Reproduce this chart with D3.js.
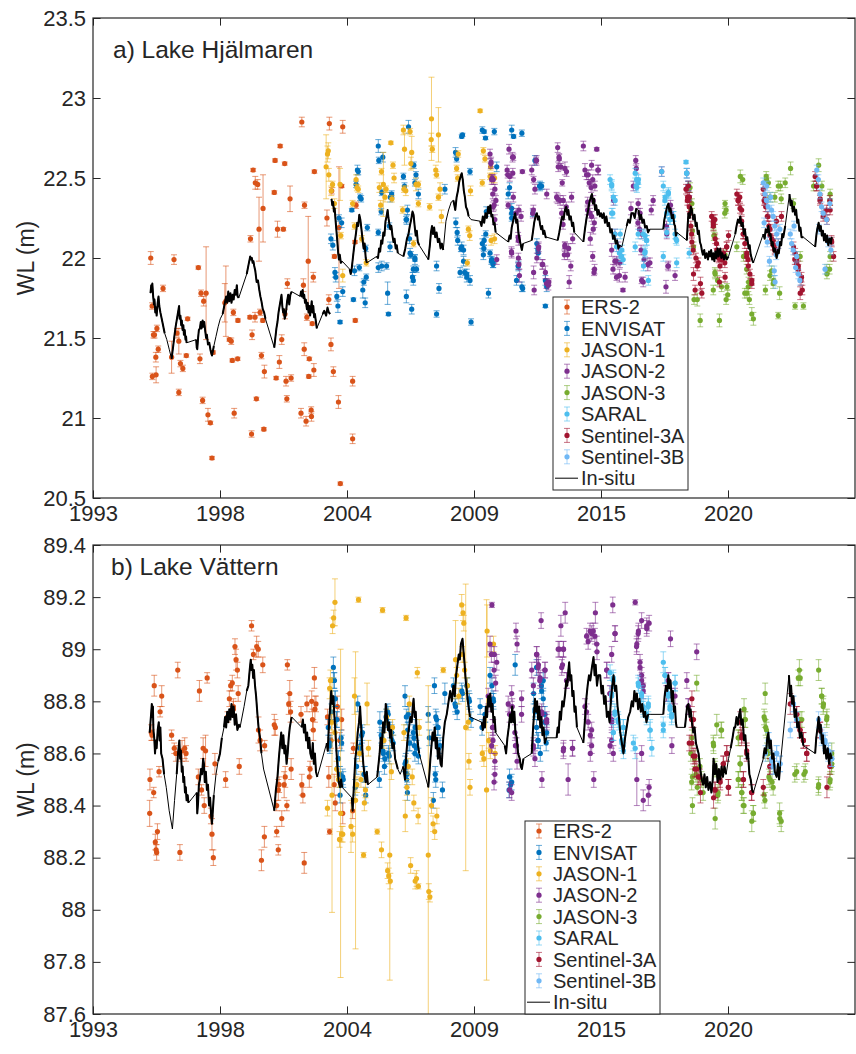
<!DOCTYPE html>
<html>
<head>
<meta charset="utf-8">
<script src="https://cdn.jsdelivr.net/npm/d3@7"></script>
<style>
  body { margin: 0; background: #fff; }
  text { font-family: "Liberation Sans", Arial, Helvetica, sans-serif; fill: #262626; }
</style>
</head>
<body>
<div id="chart"></div>
<script>
// ---------- data (decimal years, water level in m, 1-sigma error) ----------
var satellites = ["ERS-2", "ENVISAT", "JASON-1", "JASON-2", "JASON-3", "SARAL", "Sentinel-3A", "Sentinel-3B"];
var satColors = ["#D95319", "#0072BD", "#EDB120", "#7E2F8E", "#77AC30", "#4DBEEE", "#A2142F", "#70B8F5"];

// the original axis has evenly spaced ticks labelled with rounded years
var xTickVals = [1993.4, 1998.15, 2002.9, 2007.65, 2012.4, 2017.15];
var xTickLabels = ["1993", "1998", "2004", "2009", "2015", "2020"];
var hjYTicks = [20.5, 21, 21.5, 22, 22.5, 23, 23.5];
var vtYTicks = [87.6, 87.8, 88, 88.2, 88.4, 88.6, 88.8, 89, 89.2, 89.4];

// --- a) Lake Hjälmaren ---
var hjErs2 = [[1995.56,22.00,.04],[1995.61,21.70,.02],[1995.66,21.52,.02],[1995.70,21.52,.02],[1995.75,21.38,.03],[1995.79,21.56,.02],[1995.84,21.43,.02],[1995.62,21.26,.02],[1995.76,21.27,.05],[1996.02,21.81,.02],[1996.43,21.99,.03],[1996.34,21.38,.1],[1996.54,21.53,.03],[1996.61,21.48,.08],[1996.67,21.34,.02],[1996.76,21.31,.02],[1996.61,21.16,.02],[1996.89,21.39,.01],[1996.94,21.62,.01],[1997.34,21.94,.01],[1997.44,21.78,.02],[1997.54,21.73,.03],[1997.63,21.78,.29],[1997.40,21.37,.03],[1997.50,21.11,.02],[1997.70,21.02,.04],[1997.79,20.97,.01],[1997.85,20.75,.01],[1997.89,21.41,.01],[1998.33,21.72,.12],[1998.37,21.73,.22],[1998.50,21.49,.01],[1998.57,21.48,.02],[1998.65,21.66,.02],[1998.61,21.36,.01],[1998.81,21.37,.01],[1998.82,21.61,.01],[1998.68,21.03,.03],[1999.27,21.63,.01],[1999.29,22.12,.02],[1999.35,21.52,.03],[1999.39,22.55,.01],[1999.47,22.47,.04],[1999.56,22.46,.03],[1999.46,21.63,.03],[1999.61,22.18,.2],[1999.76,22.31,.21],[1999.65,21.66,.02],[1999.70,21.39,.02],[1999.51,21.12,.01],[1999.81,21.29,.04],[1999.33,20.90,.02],[1999.79,20.93,.01],[1999.75,21.61,.01],[2000.18,22.41,.01],[2000.21,22.61,.01],[2000.40,22.70,.01],[2000.57,22.59,.01],[2000.30,22.18,.05],[2000.52,22.18,.01],[2000.77,22.37,.08],[2000.67,21.84,.03],[2000.58,21.65,.03],[2000.46,21.49,.03],[2000.37,21.35,.04],[2000.25,21.25,.01],[2000.62,21.23,.03],[2000.81,21.25,.02],[2000.65,21.12,.02],[2001.21,22.85,.03],[2001.31,22.33,.02],[2001.27,21.83,.04],[2001.30,21.43,.04],[2001.18,21.03,.03],[2001.37,20.98,.03],[2001.56,21.05,.02],[2001.57,21.01,.03],[2001.49,21.37,.01],[2001.66,21.30,.04],[2001.47,21.26,.01],[2001.40,21.63,.02],[2001.60,21.59,.01],[2001.45,21.98,.28],[2001.64,21.88,.03],[2001.68,22.54,.01],[2002.22,21.74,.03],[2002.24,22.84,.04],[2002.74,22.82,.04],[2002.30,21.46,.04],[2002.39,21.29,.03],[2002.58,21.10,.04],[2002.65,20.59,.01],[2002.15,22.25,.05],[2002.33,22.42,.02],[2002.43,22.01,.01],[2002.70,22.45,.01],[2002.60,22.19,.38],[2003.11,21.23,.03],[2003.11,20.87,.03],[2003.24,22.33,.02],[2003.21,21.61,.01],[2003.20,22.10,.01]];
var hjEnvisat = [[2002.30,22.12,.03],[2002.37,22.08,.03],[2002.45,21.91,.03],[2002.48,21.88,.03],[2002.52,21.76,.03],[2002.56,21.70,.04],[2002.64,21.60,.01],[2002.60,22.25,.02],[2002.74,21.79,.03],[2002.70,22.22,.03],[2003.08,22.30,.01],[2003.14,21.74,.01],[2003.18,21.92,.03],[2003.24,22.46,.02],[2003.29,22.55,.03],[2003.32,22.54,.02],[2003.39,22.38,.02],[2003.43,22.37,.02],[2003.36,21.94,.02],[2003.49,21.80,.05],[2003.53,21.85,.02],[2003.58,21.72,.03],[2003.60,22.06,.02],[2003.62,21.88,.02],[2003.66,22.19,.02],[2004.07,22.70,.04],[2004.09,22.61,.02],[2004.24,22.63,.03],[2004.20,22.41,.02],[2004.18,22.29,.02],[2004.07,22.16,.02],[2004.07,21.94,.03],[2004.20,21.95,.03],[2004.38,21.95,.02],[2004.42,21.78,.07],[2004.45,21.65,.01],[2004.48,22.20,.02],[2004.52,22.38,.03],[2004.56,22.39,.02],[2004.51,22.07,.03],[2004.57,22.40,.02],[2005.01,22.51,.02],[2005.05,22.45,.02],[2005.20,22.82,.04],[2005.11,22.24,.02],[2005.16,22.30,.03],[2005.24,22.12,.03],[2005.29,22.02,.02],[2005.12,21.76,.04],[2005.32,21.68,.03],[2005.35,21.88,.03],[2005.38,21.93,.02],[2005.44,22.00,.02],[2005.40,22.58,.02],[2005.48,22.52,.02],[2005.13,22.24,.03],[2005.26,22.03,.03],[2005.44,21.99,.03],[2005.38,21.86,.03],[2005.50,21.93,.02],[2005.44,22.47,.02],[2005.57,22.40,.03],[2006.25,21.95,.03],[2006.25,21.65,.02],[2006.34,21.81,.03],[2006.56,22.43,.03],[2006.96,22.66,.03],[2007.00,22.62,.02],[2006.97,22.22,.03],[2007.02,22.16,.03],[2007.13,21.91,.03],[2007.16,22.06,.02],[2007.22,22.77,.01],[2007.26,22.05,.03],[2007.30,21.91,.02],[2007.38,21.90,.03],[2007.50,21.86,.03],[2007.54,21.60,.02],[2007.50,22.54,.02],[2007.19,22.76,.01],[2007.04,22.11,.03],[2007.19,22.07,.03],[2007.26,21.98,.03],[2007.38,21.88,.03],[2007.96,22.80,.02],[2008.03,22.79,.01],[2008.08,22.75,.01],[2008.41,22.79,.02],[2008.11,22.29,.03],[2008.09,22.15,.02],[2007.96,22.09,.03],[2008.02,22.06,.02],[2008.19,21.78,.03],[2008.25,22.03,.02],[2008.30,21.98,.02],[2008.36,21.96,.02],[2008.50,22.57,.03],[2008.03,22.11,.03],[2008.00,22.02,.03],[2008.31,21.99,.02],[2008.37,21.97,.03],[2009.06,22.80,.03],[2009.13,22.76,.01],[2009.44,22.78,.02],[2008.98,22.44,.03],[2009.06,22.31,.03],[2009.06,22.25,.02],[2009.24,21.86,.03],[2009.30,21.95,.02],[2009.44,21.82,.03],[2008.93,22.40,.03],[2009.06,22.28,.03],[2009.31,21.95,.03],[2009.85,22.28,.02],[2009.93,22.61,.03],[2010.00,22.09,.03],[2010.04,22.05,.02],[2010.10,22.45,.02],[2010.15,22.45,.02],[2010.05,22.03,.03],[2010.12,22.45,.03],[2010.18,22.45,.02],[2010.32,21.86,.03],[2010.37,21.84,.02],[2010.32,21.70,.01],[2010.37,21.82,.03],[2009.47,21.81,.02]];
var hjJason1 = [[2002.12,22.57,.2],[2002.17,22.65,.05],[2002.20,22.67,.05],[2002.22,22.52,.04],[2002.31,22.42,.03],[2002.36,22.46,.02],[2002.43,22.34,.03],[2002.64,22.46,.1],[2002.67,22.14,.02],[2002.74,21.89,.04],[2003.11,22.34,.02],[2003.18,22.20,.02],[2003.24,22.49,.03],[2003.27,22.44,.02],[2003.32,22.43,.02],[2003.45,22.12,.02],[2003.62,21.97,.02],[2004.11,22.44,.03],[2004.16,22.33,.03],[2004.19,22.54,.02],[2004.26,22.46,.2],[2004.32,22.38,.03],[2004.36,22.43,.02],[2004.54,22.72,.01],[2004.58,22.37,.02],[2004.62,22.58,.02],[2004.66,22.50,.03],[2005.01,22.80,.03],[2005.05,22.68,.1],[2004.98,22.30,.02],[2005.03,22.43,.02],[2005.10,22.42,.03],[2005.26,22.79,.02],[2005.32,22.66,.1],[2005.29,22.59,.04],[2005.39,22.09,.02],[2005.48,22.46,.04],[2005.57,22.34,.02],[2005.57,22.46,.02],[2005.99,22.32,.02],[2006.06,22.87,.26],[2006.05,22.74,.04],[2006.09,22.68,.02],[2006.32,22.77,.17],[2006.22,22.55,.03],[2006.25,22.52,.02],[2006.38,22.43,.04],[2006.32,22.38,.02],[2006.43,22.26,.04],[2007.00,22.56,.02],[2007.06,22.65,.02],[2007.04,22.50,.02],[2007.44,22.18,.02],[2007.49,22.14,.03],[2007.40,21.97,.02],[2007.52,22.42,.03],[2007.88,22.92,.01],[2008.00,22.67,.02],[2008.06,22.62,.02],[2007.96,22.47,.02],[2008.25,22.51,.02],[2008.27,22.57,.02],[2008.32,22.50,.03],[2008.42,22.50,.03],[2008.29,22.11,.03],[2008.42,22.12,.03]];
var hjJason2 = [[2008.25,22.65,.03],[2008.29,22.60,.03],[2008.33,22.50,.02],[2008.35,22.40,.03],[2008.40,22.33,.03],[2008.50,21.99,.03],[2008.28,22.59,.03],[2008.37,22.49,.03],[2008.37,22.32,.03],[2008.43,22.24,.03],[2008.31,22.49,.03],[2008.43,22.43,.03],[2008.47,22.36,.03],[2008.96,22.68,.03],[2009.12,22.63,.02],[2008.91,22.52,.02],[2009.10,22.53,.03],[2009.46,22.54,.01],[2008.93,22.33,.02],[2009.05,22.04,.03],[2009.30,22.13,.03],[2009.35,21.89,.04],[2009.33,22.30,.03],[2009.09,22.63,.03],[2008.89,22.55,.03],[2008.99,22.51,.03],[2009.12,22.38,.03],[2009.22,22.28,.03],[2009.31,22.00,.03],[2009.33,21.96,.03],[2009.06,22.03,.03],[2009.31,22.11,.03],[2009.41,22.26,.03],[2009.81,22.55,.03],[2009.88,22.49,.02],[2009.97,22.61,.02],[2009.85,22.28,.03],[2009.88,21.91,.04],[2009.90,21.80,.03],[2010.06,22.06,.03],[2010.00,22.00,.03],[2010.20,21.96,.03],[2010.32,21.91,.04],[2010.36,21.84,.03],[2010.45,21.85,.02],[2009.93,22.43,.03],[2009.87,22.30,.03],[2010.07,22.07,.03],[2010.22,21.96,.03],[2010.43,21.83,.03],[2009.99,22.61,.03],[2010.37,22.40,.03],[2010.78,22.69,.03],[2010.83,22.63,.02],[2010.90,22.57,.02],[2010.78,22.37,.03],[2010.95,22.47,.02],[2011.05,22.56,.04],[2010.98,22.21,.03],[2011.05,22.08,.02],[2011.15,22.02,.03],[2011.21,21.85,.04],[2011.27,21.95,.03],[2011.10,22.32,.03],[2010.84,22.62,.03],[2010.80,22.57,.03],[2010.74,22.38,.03],[2010.87,22.36,.03],[2010.93,22.28,.03],[2010.99,22.36,.03],[2011.11,22.54,.03],[2011.05,22.07,.03],[2011.19,22.06,.03],[2011.34,22.12,.03],[2011.30,22.38,.03],[2011.03,22.02,.03],[2011.74,22.70,.03],[2011.80,22.55,.04],[2011.86,22.52,.03],[2011.96,22.47,.02],[2012.03,22.44,.03],[2012.24,22.68,.01],[2012.28,22.55,.03],[2011.90,22.30,.03],[2012.05,22.26,.03],[2012.00,22.12,.04],[2012.09,22.01,.03],[2012.16,21.93,.03],[2012.14,21.91,.02],[2011.92,22.52,.03],[2012.05,22.58,.03],[2012.09,22.49,.03],[2012.30,22.55,.03],[2012.17,22.45,.03],[2012.11,22.36,.03],[2011.99,22.28,.03],[2012.11,22.18,.03],[2011.90,22.35,.03],[2012.15,22.22,.03],[2012.87,22.36,.03],[2012.80,22.05,.04],[2012.92,21.98,.02],[2012.85,21.93,.03],[2012.98,21.88,.02],[2013.09,21.89,.04],[2013.22,21.80,.01],[2012.92,22.15,.03],[2013.05,22.07,.03],[2012.98,21.98,.03],[2013.11,21.97,.03],[2013.30,21.88,.03],[2013.52,22.31,.04],[2013.70,22.61,.03],[2013.72,22.56,.03],[2013.78,22.22,.02],[2013.84,22.18,.04],[2013.90,22.05,.03],[2013.98,21.85,.03],[2013.92,21.86,.02],[2014.15,21.96,.04],[2014.28,22.30,.03],[2013.61,22.45,.03],[2013.79,22.34,.03],[2013.86,22.28,.03],[2013.92,22.15,.03],[2014.01,21.99,.03],[2014.23,21.97,.03],[2014.35,22.36,.03],[2014.67,22.54,.03],[2014.83,21.82,.04],[2014.90,21.95,.02],[2015.17,21.89,.03],[2014.85,22.20,.03],[2015.00,22.33,.03],[2014.92,21.95,.03],[2014.86,22.15,.03],[2015.04,22.28,.03],[2015.61,22.53,.03],[2015.66,22.44,.02],[2015.70,22.38,.03],[2015.66,22.45,.03],[2015.70,22.36,.03]];
var hjJason3 = [[2015.73,22.44,.03],[2015.76,22.30,.03],[2015.80,22.34,.03],[2015.82,22.17,.03],[2015.86,22.07,.03],[2015.88,21.74,.03],[2016.00,21.74,.04],[2016.11,21.61,.04],[2016.61,22.20,.02],[2016.65,22.14,.02],[2016.67,21.90,.03],[2016.83,21.61,.04],[2016.76,21.86,.03],[2016.62,22.14,.03],[2016.66,21.91,.03],[2016.60,21.80,.03],[2016.91,21.82,.03],[2017.04,22.34,.02],[2017.08,22.30,.02],[2017.04,22.02,.03],[2017.11,21.82,.02],[2017.08,21.74,.03],[2017.14,21.77,.03],[2017.03,22.28,.03],[2017.61,22.51,.04],[2017.70,22.49,.03],[2017.48,22.07,.03],[2017.73,22.01,.03],[2017.85,21.93,.03],[2017.92,21.85,.03],[2017.86,21.78,.03],[2017.95,21.74,.03],[2018.04,21.65,.04],[2018.10,21.62,.04],[2017.78,21.78,.03],[2017.91,21.82,.03],[2018.55,21.80,.03],[2018.58,22.51,.03],[2018.66,22.47,.03],[2018.78,21.92,.03],[2018.86,21.86,.03],[2018.59,22.49,.03],[2018.72,22.38,.03],[2018.90,22.38,.03],[2019.03,22.45,.03],[2018.72,21.89,.03],[2018.84,21.84,.03],[2019.08,21.78,.04],[2019.11,22.45,.03],[2019.14,22.37,.03],[2019.03,21.64,.02],[2019.29,22.47,.03],[2019.49,22.56,.04],[2019.60,22.34,.03],[2019.66,21.70,.02],[2019.85,22.01,.03],[2019.97,21.70,.02],[2020.35,22.45,.03],[2020.54,22.58,.04],[2020.66,22.45,.03],[2020.97,22.40,.03],[2020.97,22.01,.03],[2020.85,21.90,.03],[2020.95,21.93,.03],[2020.84,21.93,.03],[2020.96,22.36,.03]];
var hjSaral = [[2012.74,22.49,.03],[2012.80,22.45,.03],[2012.93,22.36,.03],[2012.80,22.28,.03],[2013.12,22.15,.03],[2013.18,22.05,.03],[2013.09,22.03,.03],[2013.15,22.01,.03],[2012.80,22.46,.03],[2012.86,22.38,.03],[2012.84,22.28,.03],[2012.92,22.15,.03],[2012.98,22.07,.03],[2013.17,22.01,.03],[2013.23,21.99,.03],[2013.68,22.53,.03],[2013.80,22.49,.03],[2013.74,22.44,.03],[2013.68,22.07,.03],[2014.05,22.14,.03],[2014.11,22.11,.03],[2013.99,21.95,.03],[2014.17,21.86,.03],[2014.05,22.04,.03],[2013.73,22.49,.03],[2013.79,22.47,.03],[2013.71,22.45,.03],[2013.79,22.15,.03],[2013.98,22.15,.03],[2014.10,22.11,.03],[2014.04,22.03,.03],[2014.67,22.54,.03],[2014.80,22.38,.03],[2014.92,22.41,.03],[2014.86,22.28,.03],[2014.98,22.24,.03],[2014.86,22.16,.03],[2014.73,22.01,.03],[2014.73,22.45,.03],[2014.79,22.36,.03],[2014.92,22.40,.03],[2014.86,22.28,.03],[2014.98,22.24,.03],[2015.11,22.26,.03],[2015.23,21.97,.03],[2015.20,22.12,.03],[2015.10,22.26,.03],[2015.17,22.15,.03],[2015.23,22.11,.03],[2015.58,22.60,.01],[2015.61,22.53,.03],[2015.67,22.45,.03],[2015.70,22.03,.03],[2015.60,22.53,.03],[2015.66,22.45,.03]];
var hjS3a = [[2015.58,22.43,.03],[2015.64,22.38,.03],[2015.67,22.45,.03],[2015.70,22.32,.03],[2015.76,22.20,.03],[2015.80,22.10,.03],[2015.86,21.90,.04],[2015.92,21.80,.03],[2015.95,22.00,.03],[2016.00,21.95,.03],[2016.12,21.84,.04],[2016.17,21.78,.03],[2015.63,22.36,.03],[2015.70,22.38,.03],[2015.73,22.28,.03],[2015.79,22.15,.03],[2015.85,22.05,.03],[2016.04,21.97,.03],[2016.54,22.26,.03],[2016.61,22.24,.03],[2016.60,22.20,.03],[2016.67,22.12,.03],[2016.73,22.05,.03],[2016.80,22.00,.03],[2016.86,22.02,.03],[2016.92,22.01,.03],[2016.98,22.03,.03],[2017.04,21.88,.03],[2017.10,22.07,.03],[2017.17,22.14,.03],[2016.83,21.85,.03],[2016.60,22.22,.03],[2016.66,22.24,.03],[2016.72,22.09,.03],[2016.78,22.01,.03],[2016.85,21.95,.03],[2016.91,21.99,.03],[2017.03,21.97,.03],[2017.10,22.07,.03],[2017.48,22.40,.03],[2017.53,22.36,.03],[2017.59,22.38,.03],[2017.60,22.31,.03],[2017.66,22.23,.03],[2017.72,22.15,.03],[2017.78,22.09,.03],[2017.85,22.03,.03],[2017.90,21.99,.03],[2018.04,21.86,.03],[2018.04,21.84,.03],[2017.53,22.36,.03],[2017.66,22.30,.03],[2017.72,22.15,.03],[2017.85,22.01,.03],[2017.91,21.95,.03],[2017.97,21.90,.03],[2018.47,22.43,.03],[2018.50,22.36,.03],[2018.53,22.37,.03],[2018.56,22.32,.03],[2018.62,22.26,.03],[2018.68,22.20,.03],[2018.72,22.14,.03],[2018.78,22.12,.03],[2018.84,22.08,.03],[2018.90,22.06,.03],[2018.96,22.23,.03],[2018.53,22.36,.03],[2018.65,22.26,.03],[2018.72,22.18,.03],[2018.84,22.11,.03],[2018.90,22.05,.03],[2019.03,22.09,.03],[2019.15,22.26,.03],[2019.60,22.07,.03],[2019.66,22.03,.03],[2019.72,21.99,.03],[2019.78,21.95,.03],[2019.85,21.78,.04],[2019.88,21.86,.03],[2019.93,21.80,.03],[2019.65,21.99,.03],[2019.72,21.97,.03],[2019.78,21.93,.03],[2019.90,21.88,.03],[2020.41,22.51,.03],[2020.47,22.45,.03],[2020.60,22.37,.03],[2020.72,22.28,.03],[2020.85,22.24,.03],[2020.97,22.30,.03],[2021.03,22.10,.03],[2021.10,22.01,.03],[2020.46,22.45,.03],[2020.59,22.36,.03],[2020.71,22.26,.03],[2020.84,22.30,.03],[2020.96,22.36,.03],[2021.02,22.11,.03]];
var hjS3b = [[2018.47,22.47,.03],[2018.53,22.40,.03],[2018.59,22.36,.03],[2018.65,22.32,.03],[2018.78,22.30,.03],[2018.84,22.26,.03],[2018.90,22.20,.03],[2018.97,22.15,.03],[2019.09,22.18,.03],[2019.03,22.09,.03],[2018.91,21.85,.04],[2018.50,22.22,.03],[2018.62,22.10,.03],[2018.70,21.98,.03],[2018.88,21.92,.03],[2018.60,22.45,.03],[2018.75,22.38,.03],[2018.95,22.02,.03],[2019.48,22.15,.03],[2019.53,22.09,.03],[2019.59,22.05,.03],[2019.72,22.01,.03],[2019.78,21.90,.03],[2019.84,21.86,.03],[2019.62,22.20,.03],[2019.68,21.94,.03],[2020.47,22.55,.03],[2020.53,22.49,.03],[2020.59,22.40,.03],[2020.65,22.32,.03],[2020.71,22.28,.03],[2020.84,22.24,.03],[2020.96,22.34,.03],[2020.78,21.93,.03],[2020.55,22.18,.03],[2020.90,22.10,.03],[2021.00,22.05,.03]];
var hjInsitu = [[1995.55,21.78],[1995.58,21.83],[1995.60,21.79],[1995.62,21.84],[1995.65,21.76],[1995.68,21.71],[1995.70,21.74],[1995.73,21.66],[1995.76,21.69],[1995.78,21.64],[1995.82,21.72],[1995.85,21.76],[1995.88,21.70],[1995.92,21.66],[1995.97,21.62],[1996.02,21.58],[1996.08,21.53],[1996.16,21.49],[1996.25,21.43],[1996.34,21.37],[1996.40,21.45],[1996.45,21.52],[1996.49,21.57],[1996.55,21.63],[1996.60,21.68],[1996.62,21.70],[1996.64,21.62],[1996.67,21.64],[1996.70,21.58],[1996.72,21.61],[1996.75,21.55],[1996.78,21.58],[1996.80,21.52],[1996.83,21.55],[1996.86,21.49],[1996.88,21.51],[1996.90,21.47],[1997.26,21.49],[1997.28,21.44],[1997.30,21.43],[1997.33,21.50],[1997.36,21.55],[1997.40,21.56],[1997.43,21.60],[1997.46,21.56],[1997.50,21.61],[1997.53,21.57],[1997.56,21.60],[1997.60,21.54],[1997.63,21.50],[1997.66,21.52],[1997.70,21.46],[1997.75,21.47],[1997.80,21.42],[1997.85,21.39],[1997.92,21.45],[1998.00,21.51],[1998.08,21.57],[1998.16,21.62],[1998.25,21.65],[1998.32,21.71],[1998.38,21.76],[1998.42,21.72],[1998.46,21.79],[1998.50,21.73],[1998.54,21.78],[1998.58,21.72],[1998.62,21.77],[1998.66,21.74],[1998.70,21.80],[1998.74,21.77],[1998.78,21.83],[1998.81,21.76],[1998.85,21.75],[1999.15,21.90],[1999.22,21.96],[1999.28,22.01],[1999.31,21.99],[1999.34,22.00],[1999.37,21.97],[1999.40,21.98],[1999.43,21.95],[1999.47,21.92],[1999.52,21.85],[1999.57,21.86],[1999.62,21.80],[1999.66,21.76],[1999.70,21.73],[1999.75,21.68],[1999.80,21.66],[1999.85,21.62],[2000.18,21.44],[2000.22,21.50],[2000.26,21.56],[2000.30,21.60],[2000.34,21.66],[2000.38,21.70],[2000.42,21.74],[2000.45,21.77],[2000.48,21.70],[2000.51,21.66],[2000.54,21.68],[2000.57,21.62],[2000.60,21.64],[2000.63,21.68],[2000.66,21.73],[2000.70,21.77],[2000.74,21.71],[2000.78,21.77],[2000.83,21.79],[2001.15,21.76],[2001.18,21.79],[2001.21,21.76],[2001.24,21.80],[2001.27,21.75],[2001.30,21.77],[2001.33,21.72],[2001.36,21.74],[2001.40,21.68],[2001.43,21.72],[2001.46,21.66],[2001.49,21.70],[2001.52,21.64],[2001.55,21.68],[2001.58,21.73],[2001.61,21.66],[2001.64,21.70],[2001.67,21.63],[2001.70,21.65],[2001.77,21.56],[2001.99,21.65],[2002.05,21.67],[2002.12,21.64],[2002.17,21.69],[2002.22,21.66],[2002.27,21.65],[2002.295,null],[2002.32,22.37],[2002.35,22.33],[2002.38,22.35],[2002.41,22.29],[2002.44,22.31],[2002.47,22.24],[2002.50,22.18],[2002.54,22.10],[2002.57,22.03],[2002.60,21.99],[2002.63,22.02],[2002.67,21.97],[2002.72,21.98],[2003.00,21.93],[2003.04,21.90],[2003.08,21.94],[2003.12,22.00],[2003.16,22.06],[2003.20,22.11],[2003.24,22.16],[2003.28,22.22],[2003.32,22.20],[2003.36,22.27],[2003.40,22.24],[2003.44,22.18],[2003.48,22.12],[2003.52,22.06],[2003.56,22.09],[2003.60,22.00],[2003.64,21.97],[2004.01,22.01],[2004.06,22.00],[2004.10,22.06],[2004.14,22.04],[2004.18,22.11],[2004.22,22.09],[2004.26,22.16],[2004.30,22.14],[2004.34,22.23],[2004.38,22.26],[2004.42,22.30],[2004.45,22.25],[2004.48,22.22],[2004.52,22.18],[2004.56,22.20],[2004.60,22.14],[2004.64,22.10],[2004.68,22.12],[2004.72,22.06],[2004.76,22.08],[2004.80,22.03],[2005.01,22.01],[2005.08,22.06],[2005.14,22.12],[2005.20,22.15],[2005.25,22.20],[2005.30,22.24],[2005.35,22.29],[2005.39,22.27],[2005.43,22.20],[2005.47,22.14],[2005.51,22.17],[2005.55,22.10],[2005.60,22.08],[2005.94,21.99],[2006.00,22.08],[2006.04,22.16],[2006.08,22.20],[2006.12,22.15],[2006.16,22.19],[2006.20,22.13],[2006.25,22.16],[2006.30,22.10],[2006.35,22.12],[2006.40,22.06],[2006.45,22.09],[2006.50,22.05],[2006.60,22.23],[2006.70,22.30],[2006.80,22.35],[2006.88,22.36],[2006.95,22.30],[2007.00,22.38],[2007.05,22.42],[2007.10,22.48],[2007.15,22.51],[2007.19,22.53],[2007.23,22.49],[2007.27,22.42],[2007.31,22.38],[2007.35,22.32],[2007.40,22.30],[2007.45,22.26],[2007.54,22.24],[2007.88,22.23],[2007.93,22.20],[2007.98,22.26],[2008.03,22.22],[2008.08,22.28],[2008.13,22.25],[2008.18,22.32],[2008.22,22.28],[2008.26,22.33],[2008.30,22.26],[2008.34,22.27],[2008.38,22.21],[2008.42,22.22],[2008.46,22.16],[2008.93,22.10],[2008.98,22.14],[2009.02,22.12],[2009.06,22.19],[2009.10,22.22],[2009.14,22.25],[2009.19,22.28],[2009.23,22.22],[2009.27,22.24],[2009.31,22.16],[2009.35,22.12],[2009.40,22.08],[2009.44,22.05],[2009.48,22.09],[2009.81,22.11],[2009.86,22.17],[2009.90,22.22],[2009.95,22.26],[2010.00,22.28],[2010.04,22.24],[2010.08,22.26],[2010.12,22.21],[2010.16,22.18],[2010.20,22.20],[2010.24,22.15],[2010.28,22.17],[2010.33,22.13],[2010.37,22.13],[2010.78,22.11],[2010.84,22.16],[2010.90,22.22],[2010.95,22.26],[2011.00,22.24],[2011.05,22.30],[2011.10,22.32],[2011.14,22.27],[2011.18,22.30],[2011.22,22.24],[2011.27,22.26],[2011.32,22.20],[2011.36,22.22],[2011.40,22.16],[2011.74,22.10],[2011.80,22.18],[2011.86,22.25],[2011.92,22.30],[2011.97,22.35],[2012.02,22.38],[2012.06,22.40],[2012.10,22.34],[2012.14,22.37],[2012.18,22.30],[2012.22,22.33],[2012.27,22.27],[2012.31,22.30],[2012.36,22.26],[2012.40,22.28],[2012.45,22.25],[2012.50,22.28],[2012.55,22.22],[2012.60,22.26],[2012.65,22.20],[2012.70,22.22],[2012.75,22.16],[2012.80,22.18],[2012.85,22.12],[2012.90,22.14],[2012.95,22.09],[2013.00,22.11],[2013.05,22.06],[2013.10,22.08],[2013.18,22.07],[2013.36,22.20],[2013.42,22.24],[2013.48,22.22],[2013.54,22.28],[2013.61,22.28],[2013.66,22.25],[2013.72,22.31],[2013.80,22.30],[2013.85,22.24],[2013.90,22.27],[2013.95,22.22],[2014.00,22.24],[2014.05,22.19],[2014.11,22.20],[2014.16,22.16],[2014.22,22.18],[2014.73,22.18],[2014.77,22.24],[2014.82,22.28],[2014.87,22.32],[2014.92,22.34],[2014.96,22.29],[2015.00,22.31],[2015.05,22.25],[2015.10,22.27],[2015.14,22.21],[2015.17,22.20],[2015.20,22.14],[2015.24,22.16],[2015.61,22.11],[2015.64,22.20],[2015.67,22.28],[2015.72,22.25],[2015.76,22.32],[2015.80,22.30],[2015.85,22.24],[2015.90,22.27],[2015.94,22.20],[2015.98,22.22],[2016.02,22.15],[2016.06,22.17],[2016.10,22.10],[2016.14,22.08],[2016.17,22.05],[2016.21,22.02],[2016.26,22.05],[2016.30,22.00],[2016.35,22.03],[2016.40,21.99],[2016.44,22.04],[2016.48,22.01],[2016.52,22.05],[2016.56,21.99],[2016.60,22.03],[2016.64,21.98],[2016.68,22.04],[2016.72,22.00],[2016.76,22.06],[2016.80,22.01],[2016.86,22.06],[2016.90,22.00],[2016.94,22.03],[2017.00,21.99],[2017.05,22.02],[2017.10,21.99],[2017.17,22.01],[2017.42,22.15],[2017.47,22.20],[2017.52,22.24],[2017.57,22.22],[2017.61,22.26],[2017.65,22.20],[2017.70,22.22],[2017.74,22.15],[2017.78,22.18],[2017.83,22.11],[2017.87,22.13],[2017.92,22.06],[2017.96,22.08],[2018.00,22.02],[2018.05,21.99],[2018.10,21.97],[2018.47,22.15],[2018.52,22.12],[2018.56,22.18],[2018.61,22.16],[2018.66,22.20],[2018.70,22.14],[2018.74,22.15],[2018.78,22.08],[2018.82,22.10],[2018.86,22.04],[2018.90,22.06],[2018.97,22.00],[2019.01,22.05],[2019.05,22.03],[2019.10,22.10],[2019.14,22.08],[2019.18,22.15],[2019.22,22.13],[2019.29,22.20],[2019.45,22.40],[2019.49,22.33],[2019.53,22.36],[2019.57,22.29],[2019.62,22.32],[2019.66,22.27],[2019.70,22.30],[2019.74,22.22],[2019.78,22.24],[2019.82,22.17],[2019.86,22.19],[2019.90,22.13],[2019.97,22.13],[2020.41,22.07],[2020.46,22.15],[2020.50,22.19],[2020.54,22.22],[2020.58,22.17],[2020.62,22.20],[2020.66,22.14],[2020.70,22.17],[2020.74,22.11],[2020.78,22.15],[2020.82,22.10],[2020.86,22.14],[2020.90,22.08],[2020.95,22.12],[2021.00,22.09],[2021.03,22.13]];

// --- b) Lake Vättern ---
var vtErs2 = [[1995.52,88.37,.05],[1995.53,88.50,.04],[1995.58,88.68,.03],[1995.61,88.67,.02],[1995.67,88.45,.02],[1995.69,88.86,.04],[1995.73,88.26,.03],[1995.76,88.23,.02],[1995.78,88.22,.03],[1995.81,88.30,.03],[1995.87,88.53,.02],[1995.91,88.76,.02],[1995.97,88.82,.04],[1996.34,88.67,.02],[1996.44,88.62,.02],[1996.50,88.60,.03],[1996.57,88.92,.03],[1996.65,88.22,.03],[1996.73,88.61,.04],[1996.83,88.62,.04],[1996.88,88.60,.03],[1997.38,88.84,.04],[1997.34,88.51,.03],[1997.46,88.46,.02],[1997.52,88.62,.04],[1997.61,88.61,.06],[1997.67,88.89,.02],[1997.56,88.40,.03],[1997.81,88.36,.03],[1997.85,88.29,.06],[1997.90,88.20,.03],[1997.96,88.56,.04],[1998.36,88.50,.03],[1998.43,88.74,.02],[1998.50,88.81,.03],[1998.55,88.86,.02],[1998.61,88.87,.03],[1998.65,88.77,.03],[1998.65,88.78,.03],[1998.71,89.01,.03],[1998.75,88.96,.04],[1998.80,88.92,.03],[1998.83,88.83,.03],[1998.87,88.55,.03],[1999.33,89.09,.02],[1999.40,88.98,.02],[1999.52,89.01,.04],[1999.58,89.00,.03],[1999.75,88.94,.03],[1999.59,88.69,.05],[1999.65,88.65,.04],[1999.82,88.63,.02],[1999.70,88.19,.04],[1999.81,88.28,.04],[2000.18,88.71,.04],[2000.22,88.70,.03],[2000.27,88.40,.02],[2000.33,88.46,.04],[2000.36,88.48,.03],[2000.27,88.30,.02],[2000.33,88.23,.02],[2000.46,88.35,.03],[2000.55,88.48,.05],[2000.59,88.51,.04],[2000.65,88.40,.02],[2000.67,88.94,.02],[2000.72,88.79,.04],[2000.76,88.83,.05],[2000.79,88.76,.04],[2000.81,88.54,.04],[2001.18,88.75,.03],[2001.21,88.48,.04],[2001.25,88.44,.03],[2001.30,88.18,.04],[2001.40,88.79,.03],[2001.49,88.51,.04],[2001.52,88.54,.03],[2001.58,88.80,.04],[2001.61,88.73,.04],[2001.64,88.69,.04],[2001.68,88.89,.04],[2001.70,88.77,.05],[2001.74,88.79,.03],[2002.17,88.74,.03],[2002.22,88.51,.04],[2002.25,88.30,.01],[2002.30,88.65,.03],[2002.42,88.48,.04],[2002.46,88.41,.03],[2002.54,88.78,.04],[2002.63,88.65,.03],[2002.70,88.73,.04],[2002.74,88.37,.04],[2003.11,88.38,.03],[2003.14,88.62,.02]];
var vtEnvisat = [[2002.20,88.70,.03],[2002.26,88.64,.03],[2002.32,88.76,.03],[2002.39,88.93,.04],[2002.43,88.88,.03],[2002.46,88.81,.03],[2002.52,88.73,.03],[2002.58,88.58,.03],[2002.64,88.52,.03],[2002.64,88.44,.03],[2002.68,88.66,.03],[2002.74,88.51,.03],[2002.26,88.63,.03],[2002.41,88.88,.03],[2002.45,88.81,.03],[2002.51,88.73,.03],[2002.57,88.58,.03],[2002.70,88.64,.03],[2002.76,88.50,.03],[2003.21,88.47,.03],[2003.26,88.55,.03],[2003.30,88.79,.03],[2003.38,88.62,.03],[2003.45,88.67,.03],[2003.53,88.52,.03],[2003.60,88.44,.03],[2003.41,88.63,.03],[2003.48,88.68,.03],[2003.57,88.52,.03],[2004.11,88.50,.03],[2004.13,88.72,.04],[2004.18,88.67,.03],[2004.24,88.61,.03],[2004.36,88.74,.03],[2004.42,88.76,.03],[2004.45,88.60,.03],[2004.52,88.69,.03],[2004.58,88.65,.03],[2004.30,88.55,.03],[2004.20,88.66,.03],[2004.26,88.60,.03],[2004.38,88.73,.03],[2004.44,88.75,.03],[2004.48,88.59,.03],[2004.57,88.68,.03],[2004.63,88.64,.03],[2004.32,88.58,.03],[2005.07,88.82,.04],[2005.12,88.74,.03],[2005.17,88.69,.03],[2005.22,88.64,.03],[2005.10,88.57,.03],[2005.15,88.52,.03],[2005.16,88.45,.03],[2005.40,88.66,.03],[2005.45,88.70,.03],[2005.50,88.62,.03],[2005.19,88.75,.03],[2005.25,88.64,.03],[2005.38,88.68,.03],[2005.44,88.60,.03],[2005.07,88.56,.03],[2005.13,88.50,.03],[2005.42,88.63,.03],[2005.57,88.59,.03],[2005.94,88.75,.03],[2005.98,88.66,.03],[2006.13,88.42,.03],[2006.17,88.86,.03],[2006.22,88.74,.03],[2006.28,88.70,.03],[2006.33,88.62,.03],[2006.20,88.52,.03],[2006.47,88.46,.03],[2006.56,88.83,.04],[2006.25,88.73,.03],[2006.31,88.70,.03],[2006.38,88.63,.03],[2006.22,88.50,.03],[2006.88,88.86,.03],[2006.96,88.78,.03],[2007.02,88.76,.03],[2007.22,88.83,.03],[2007.40,88.86,.03],[2007.48,88.80,.03],[2007.54,88.73,.03],[2006.94,88.79,.03],[2007.19,88.84,.03],[2007.38,88.86,.03],[2007.46,88.81,.03],[2007.88,88.78,.03],[2007.95,88.70,.03],[2008.08,88.75,.03],[2008.25,88.90,.03],[2008.32,88.86,.03],[2008.38,88.80,.03],[2008.06,88.75,.03],[2008.37,88.81,.03],[2008.98,88.51,.03],[2009.02,88.48,.03],[2008.96,88.46,.03],[2009.06,88.49,.03],[2009.19,88.94,.04],[2009.88,88.83,.04],[2009.93,88.76,.03],[2009.99,88.70,.03],[2010.04,88.65,.03],[2010.13,88.60,.03],[2009.99,88.93,.03],[2010.17,88.86,.03],[2010.24,88.88,.03],[2010.30,88.72,.03],[2010.35,88.64,.03],[2010.18,88.84,.03],[2010.24,88.81,.03],[2010.30,88.75,.03],[2010.37,88.68,.03],[2009.93,88.77,.03],[2010.05,88.65,.03]];
var vtJason1 = [[2002.17,88.39,.03],[2002.25,88.85,.04],[2002.28,88.88,.04],[2002.32,88.72,.03],[2002.36,89.09,.03],[2002.40,89.12,.03],[2002.45,89.18,.09],[2002.34,88.44,.45],[2002.45,88.68,.03],[2002.51,88.54,.03],[2002.58,88.50,.03],[2002.62,88.27,.03],[2002.66,88.37,.63],[2002.70,88.29,.03],[2002.74,88.29,.03],[2003.05,88.32,.1],[2003.11,88.29,.03],[2003.18,88.82,.07],[2003.22,88.42,.57],[2003.27,88.48,.03],[2003.33,89.19,.01],[2003.37,88.60,.03],[2003.42,88.50,.03],[2003.52,88.21,.01],[2003.55,88.41,.03],[2003.59,88.46,.03],[2003.65,88.79,.08],[2003.70,88.62,.03],[2004.03,88.30,.01],[2004.19,88.23,.03],[2004.23,89.15,.01],[2004.28,88.65,.03],[2004.38,88.74,.03],[2004.42,88.15,.03],[2004.46,88.13,.03],[2004.50,88.21,.48],[2004.52,88.11,.03],[2004.56,88.53,.03],[2004.60,88.70,.03],[2005.03,88.68,.03],[2005.08,88.36,.06],[2005.11,89.12,.01],[2005.14,88.47,.03],[2005.19,88.55,.03],[2005.23,88.79,.03],[2005.28,88.17,.03],[2005.34,88.51,.03],[2005.40,88.41,.03],[2005.45,88.11,.03],[2005.50,88.12,.03],[2005.53,88.91,.02],[2005.56,88.36,.03],[2005.57,88.09,.01],[2005.60,88.70,.03],[2005.94,88.21,.65],[2005.96,88.07,.03],[2006.00,88.05,.02],[2006.06,88.40,.03],[2006.12,88.33,.03],[2006.18,88.30,.03],[2006.26,88.36,.03],[2006.50,88.92,.01],[2006.96,88.96,.15],[2007.00,88.90,.03],[2007.08,88.82,.03],[2007.19,89.17,.04],[2007.24,89.14,.03],[2007.27,89.10,.03],[2007.21,88.98,.03],[2007.30,88.92,.03],[2007.34,88.70,.55],[2007.40,88.86,.03],[2007.44,88.72,.03],[2007.46,88.57,.03],[2007.50,88.47,.03],[2007.96,88.60,.03],[2008.02,88.58,.03],[2008.14,89.07,.1],[2008.12,88.46,.73],[2008.20,88.65,.03],[2008.26,88.61,.03],[2008.38,89.02,.03],[2008.44,88.60,.03]];
var vtJason2 = [[2008.32,89.17,.01],[2008.30,88.98,.03],[2008.40,88.92,.03],[2008.46,88.87,.03],[2008.34,88.70,.03],[2008.36,88.65,.03],[2008.43,88.57,.03],[2008.43,88.52,.03],[2008.40,88.49,.03],[2008.25,89.02,.03],[2008.41,88.98,.03],[2008.50,88.95,.03],[2008.18,88.82,.03],[2008.25,88.79,.03],[2008.37,88.70,.03],[2008.31,88.63,.03],[2008.98,88.46,.03],[2009.06,88.45,.03],[2008.98,88.75,.03],[2009.08,88.78,.03],[2009.20,88.63,.03],[2009.26,88.57,.03],[2009.43,88.75,.03],[2009.22,89.07,.03],[2009.26,89.02,.03],[2008.93,88.79,.03],[2009.06,88.83,.03],[2009.18,88.68,.03],[2009.24,88.63,.03],[2009.43,88.81,.03],[2009.81,88.92,.03],[2010.00,88.98,.03],[2009.87,88.86,.03],[2010.06,88.94,.03],[2010.12,88.89,.03],[2010.31,88.92,.03],[2010.19,88.75,.03],[2010.37,88.72,.03],[2009.87,88.62,.03],[2009.93,88.58,.03],[2010.19,88.50,.03],[2010.16,89.11,.03],[2009.99,88.98,.03],[2010.05,88.93,.03],[2010.11,88.88,.03],[2010.30,88.92,.03],[2010.18,88.76,.03],[2010.37,88.73,.03],[2009.87,88.63,.03],[2010.90,89.09,.04],[2010.84,89.00,.03],[2010.96,88.94,.03],[2011.06,89.14,.04],[2011.00,89.00,.03],[2011.12,88.88,.03],[2011.17,88.50,.06],[2011.00,88.62,.03],[2011.34,88.62,.03],[2010.80,89.00,.03],[2010.93,88.93,.03],[2010.99,89.00,.03],[2011.11,88.88,.03],[2010.99,88.61,.03],[2011.33,88.62,.03],[2011.86,88.76,.03],[2011.92,88.72,.03],[2011.92,89.03,.03],[2012.05,89.06,.03],[2012.17,89.05,.03],[2012.19,89.14,.04],[2012.25,88.99,.03],[2012.00,88.67,.03],[2012.00,88.60,.03],[2012.13,88.50,.03],[2011.80,88.78,.03],[2011.86,89.05,.03],[2011.99,89.07,.03],[2012.11,89.07,.03],[2012.24,89.02,.03],[2012.05,88.69,.03],[2012.05,88.63,.03],[2012.84,89.17,.03],[2012.93,89.06,.03],[2012.80,88.98,.03],[2012.62,88.92,.03],[2012.75,88.83,.03],[2012.80,88.72,.03],[2012.74,88.63,.03],[2012.86,88.60,.03],[2012.92,89.06,.03],[2012.61,88.92,.03],[2012.73,88.83,.03],[2012.80,88.73,.03],[2012.80,88.65,.03],[2013.68,89.18,.01],[2013.74,89.02,.03],[2013.80,89.07,.03],[2013.86,88.95,.03],[2013.92,88.90,.03],[2013.98,88.86,.03],[2013.74,88.50,.1],[2013.98,88.42,.04],[2013.92,88.60,.03],[2013.92,89.11,.03],[2014.11,89.08,.03],[2014.20,89.10,.03],[2014.17,88.44,.04],[2014.20,88.47,.03],[2013.73,89.01,.03],[2013.79,89.06,.03],[2013.86,88.93,.03],[2013.92,88.88,.03],[2013.98,88.84,.03],[2014.11,89.09,.03],[2015.00,89.04,.03],[2014.92,88.88,.03],[2014.86,88.83,.03],[2015.05,88.82,.03],[2015.05,88.63,.03],[2014.91,88.88,.03],[2014.85,88.83,.03],[2015.17,88.82,.03],[2015.61,88.88,.03],[2015.67,88.78,.03],[2015.66,88.78,.03],[2015.98,88.99,.03]];
var vtJason3 = [[2015.98,88.87,.03],[2015.80,88.66,.03],[2015.82,88.51,.03],[2015.82,88.40,.03],[2015.90,88.58,.03],[2015.95,88.52,.03],[2016.00,88.47,.03],[2015.76,88.60,.03],[2015.79,88.49,.03],[2016.10,88.55,.03],[2016.16,88.50,.03],[2016.22,88.45,.03],[2016.73,88.71,.04],[2016.89,88.69,.03],[2016.61,88.63,.03],[2016.67,88.54,.03],[2016.67,88.35,.04],[2016.77,88.44,.03],[2016.91,88.69,.03],[2016.60,88.64,.03],[2016.66,88.55,.03],[2016.78,88.45,.03],[2017.75,88.77,.04],[2017.80,88.73,.03],[2017.55,88.66,.03],[2017.61,88.56,.03],[2017.55,88.50,.03],[2017.67,88.45,.03],[2017.75,88.40,.03],[2018.04,88.34,.04],[2018.10,88.37,.03],[2017.78,88.73,.03],[2017.53,88.66,.03],[2017.60,88.56,.03],[2017.53,88.50,.03],[2017.66,88.45,.03],[2017.72,88.40,.03],[2018.09,88.37,.03],[2018.54,88.83,.04],[2018.50,88.74,.03],[2018.56,88.70,.03],[2018.61,88.61,.03],[2018.50,88.44,.03],[2018.68,88.51,.03],[2018.80,88.49,.03],[2018.53,88.73,.03],[2018.59,88.69,.03],[2018.65,88.60,.03],[2018.53,88.42,.03],[2018.72,88.50,.03],[2018.84,88.47,.03],[2019.08,88.37,.04],[2019.14,88.34,.04],[2019.09,88.35,.03],[2019.82,88.92,.04],[2019.85,88.89,.03],[2019.72,88.53,.03],[2019.91,88.73,.03],[2020.04,88.53,.03],[2019.78,88.89,.03],[2019.65,88.52,.03],[2019.84,88.73,.03],[2019.99,88.52,.03],[2020.54,88.92,.04],[2020.66,88.82,.03],[2020.72,88.79,.03],[2020.85,88.74,.03],[2020.54,88.48,.03],[2020.97,88.50,.03],[2021.03,88.56,.03],[2021.03,88.60,.04],[2020.65,88.82,.03],[2020.71,88.78,.03],[2020.84,88.73,.03],[2020.53,88.47,.03],[2020.96,88.49,.03],[2021.02,88.55,.03]];
var vtSaral = [[2012.74,88.91,.03],[2012.86,88.89,.03],[2012.80,88.83,.03],[2012.92,88.76,.03],[2012.86,88.68,.03],[2013.05,88.72,.03],[2013.24,88.70,.03],[2013.18,88.64,.03],[2013.24,88.61,.03],[2012.86,88.88,.03],[2012.80,88.82,.03],[2012.92,88.75,.03],[2012.86,88.68,.03],[2013.04,88.73,.03],[2013.23,88.70,.03],[2013.17,88.65,.03],[2013.23,88.63,.03],[2013.68,88.62,.04],[2013.80,88.86,.03],[2013.92,88.82,.03],[2013.98,88.77,.03],[2014.11,88.74,.03],[2014.24,88.69,.04],[2014.17,88.78,.03],[2013.79,88.87,.03],[2013.92,88.83,.03],[2013.98,88.78,.03],[2014.10,88.75,.03],[2014.23,88.69,.03],[2014.17,88.79,.03],[2014.73,88.95,.04],[2014.80,88.90,.03],[2014.92,88.83,.03],[2014.98,88.78,.03],[2015.05,88.75,.03],[2014.73,88.71,.03],[2015.17,88.87,.03],[2014.79,88.90,.03],[2014.91,88.82,.03],[2014.98,88.77,.03],[2015.04,88.74,.03],[2014.73,88.69,.03],[2015.17,88.87,.03],[2013.61,88.64,.03],[2014.30,88.62,.03]];
var vtS3a = [[2015.80,88.81,.03],[2015.86,88.73,.03],[2015.80,88.64,.03],[2015.92,88.59,.03],[2015.98,88.54,.03],[2016.10,88.51,.03],[2016.12,88.45,.04],[2015.79,88.73,.03],[2015.70,88.64,.03],[2015.85,88.59,.03],[2015.91,88.54,.03],[2016.04,88.51,.03],[2016.61,88.43,.04],[2016.67,88.46,.03],[2016.86,88.49,.03],[2016.98,88.56,.03],[2017.11,88.60,.03],[2017.17,88.47,.03],[2016.66,88.46,.03],[2016.85,88.50,.03],[2016.97,88.56,.03],[2017.10,88.60,.03],[2017.16,88.47,.03],[2017.61,88.72,.04],[2017.67,88.67,.03],[2017.85,88.61,.03],[2017.73,88.50,.03],[2018.04,88.45,.03],[2017.66,88.66,.03],[2017.85,88.60,.03],[2017.72,88.50,.03],[2018.03,88.45,.03],[2018.47,88.47,.03],[2018.72,88.55,.03],[2018.72,88.55,.03],[2019.48,88.79,.04],[2019.72,88.75,.03],[2019.85,88.69,.03],[2019.97,88.65,.03],[2020.10,88.60,.03],[2019.72,88.75,.03],[2019.84,88.69,.03],[2019.97,88.65,.03],[2020.09,88.60,.03],[2020.85,88.47,.04],[2020.60,88.69,.03],[2021.00,88.58,.03],[2020.59,88.69,.03],[2020.96,88.55,.03]];
var vtS3b = [[2018.55,88.60,.03],[2018.68,88.65,.03],[2018.80,88.57,.03],[2018.86,88.55,.03],[2018.97,88.60,.03],[2019.10,88.56,.03],[2018.65,88.65,.03],[2018.78,88.58,.03],[2018.84,88.55,.03],[2018.97,88.60,.03],[2019.09,88.56,.03],[2019.48,88.69,.03],[2019.60,88.79,.03],[2019.72,88.73,.03],[2019.59,88.79,.03],[2019.72,88.73,.03],[2020.54,88.73,.03],[2020.66,88.67,.03],[2020.78,88.65,.03],[2020.91,88.61,.03],[2021.03,88.58,.03],[2020.65,88.66,.03],[2020.78,88.64,.03],[2020.90,88.60,.03],[2021.03,88.58,.03]];
var vtInsitu = [[1995.52,88.68],[1995.55,88.72],[1995.58,88.76],[1995.60,88.79],[1995.62,88.74],[1995.64,88.78],[1995.66,88.69],[1995.69,88.66],[1995.72,88.60],[1995.75,88.65],[1995.78,88.62],[1995.82,88.69],[1995.86,88.72],[1995.89,88.65],[1995.92,88.70],[1995.95,88.60],[1996.00,88.58],[1996.06,88.52],[1996.14,88.47],[1996.25,88.38],[1996.37,88.31],[1996.45,88.42],[1996.53,88.52],[1996.58,88.60],[1996.63,88.65],[1996.66,88.58],[1996.69,88.61],[1996.72,88.53],[1996.75,88.55],[1996.78,88.49],[1996.81,88.51],[1996.84,88.45],[1996.87,88.47],[1996.90,88.42],[1996.94,88.44],[1996.97,88.41],[1997.28,88.45],[1997.30,88.37],[1997.33,88.41],[1997.36,88.48],[1997.40,88.50],[1997.44,88.54],[1997.48,88.52],[1997.52,88.58],[1997.55,88.56],[1997.58,88.49],[1997.62,88.53],[1997.66,88.46],[1997.70,88.48],[1997.74,88.40],[1997.78,88.43],[1997.82,88.36],[1997.85,88.33],[1997.92,88.44],[1998.00,88.52],[1998.08,88.57],[1998.15,88.60],[1998.22,88.66],[1998.30,88.70],[1998.34,88.74],[1998.38,88.70],[1998.42,88.76],[1998.46,88.72],[1998.50,88.77],[1998.54,88.73],[1998.58,88.79],[1998.62,88.74],[1998.66,88.78],[1998.70,88.71],[1998.75,88.75],[1998.80,88.69],[1998.86,88.71],[1998.90,88.70],[1999.05,88.78],[1999.15,88.84],[1999.21,88.86],[1999.26,88.92],[1999.30,88.96],[1999.33,88.92],[1999.36,88.94],[1999.39,88.89],[1999.42,88.92],[1999.46,88.86],[1999.50,88.82],[1999.55,88.75],[1999.60,88.69],[1999.65,88.66],[1999.70,88.60],[1999.78,88.54],[2000.18,88.38],[2000.24,88.46],[2000.30,88.51],[2000.35,88.58],[2000.40,88.64],[2000.44,88.68],[2000.48,88.62],[2000.52,88.67],[2000.56,88.60],[2000.60,88.63],[2000.64,88.56],[2000.68,88.60],[2000.72,88.66],[2000.76,88.70],[2000.83,88.74],[2001.21,88.70],[2001.25,88.73],[2001.29,88.68],[2001.33,88.71],[2001.37,88.65],[2001.41,88.68],[2001.45,88.62],[2001.49,88.66],[2001.53,88.60],[2001.58,88.58],[2001.62,88.64],[2001.66,88.56],[2001.70,88.60],[2001.74,88.53],[2001.79,88.51],[2002.14,88.64],[2002.18,88.61],[2002.22,88.70],[2002.27,88.78],[2002.31,88.84],[2002.35,88.79],[2002.39,88.82],[2002.43,88.74],[2002.47,88.68],[2002.51,88.60],[2002.55,88.54],[2002.59,88.49],[2002.64,88.47],[2002.68,88.50],[2002.72,88.47],[2003.08,88.43],[2003.11,88.38],[2003.16,88.48],[2003.21,88.58],[2003.26,88.62],[2003.30,88.68],[2003.35,88.72],[2003.39,88.78],[2003.43,88.70],[2003.47,88.62],[2003.51,88.56],[2003.55,88.52],[2003.60,88.49],[2003.64,88.53],[2003.68,88.48],[2004.03,88.51],[2004.07,88.55],[2004.12,88.60],[2004.16,88.66],[2004.20,88.62],[2004.25,88.72],[2004.30,88.68],[2004.35,88.79],[2004.39,88.75],[2004.43,88.69],[2004.47,88.72],[2004.51,88.66],[2004.55,88.69],[2004.60,88.62],[2004.65,88.64],[2004.70,88.58],[2004.75,88.56],[2004.80,88.54],[2004.89,88.52],[2005.00,88.55],[2005.07,88.50],[2005.12,88.60],[2005.17,88.66],[2005.22,88.70],[2005.27,88.74],[2005.32,88.72],[2005.36,88.78],[2005.39,88.81],[2005.43,88.74],[2005.47,88.76],[2005.51,88.68],[2005.56,88.63],[2005.60,88.60],[2005.94,88.47],[2005.98,88.52],[2006.02,88.58],[2006.06,88.63],[2006.10,88.68],[2006.14,88.65],[2006.18,88.70],[2006.22,88.62],[2006.26,88.66],[2006.30,88.58],[2006.35,88.62],[2006.40,88.56],[2006.44,88.55],[2006.50,88.66],[2006.56,88.72],[2006.63,88.75],[2006.70,88.80],[2006.76,88.84],[2006.82,88.80],[2006.88,88.86],[2006.93,88.82],[2006.98,88.90],[2007.03,88.94],[2007.08,88.98],[2007.12,88.96],[2007.16,89.02],[2007.22,89.04],[2007.26,88.99],[2007.30,88.94],[2007.34,88.88],[2007.38,88.84],[2007.42,88.80],[2007.46,88.77],[2007.50,88.74],[2007.94,88.72],[2007.98,88.69],[2008.02,88.74],[2008.06,88.70],[2008.10,88.78],[2008.14,88.74],[2008.18,88.82],[2008.22,88.78],[2008.26,88.83],[2008.30,88.76],[2008.34,88.79],[2008.38,88.72],[2008.42,88.74],[2008.46,88.68],[2008.80,88.63],[2008.85,88.60],[2008.90,88.66],[2008.95,88.70],[2009.00,88.75],[2009.04,88.72],[2009.08,88.78],[2009.12,88.72],[2009.16,88.76],[2009.20,88.68],[2009.25,88.66],[2009.30,88.60],[2009.36,88.58],[2009.40,88.55],[2009.44,88.54],[2009.50,88.58],[2009.81,88.60],[2009.85,88.68],[2009.90,88.76],[2009.93,88.81],[2009.97,88.76],[2010.01,88.80],[2010.05,88.73],[2010.09,88.78],[2010.13,88.70],[2010.17,88.74],[2010.21,88.67],[2010.25,88.70],[2010.30,88.64],[2010.35,88.66],[2010.74,88.66],[2010.78,88.70],[2010.82,88.68],[2010.86,88.76],[2010.90,88.73],[2010.95,88.80],[2011.00,88.78],[2011.06,88.83],[2011.10,88.88],[2011.14,88.86],[2011.18,88.92],[2011.21,88.95],[2011.25,88.88],[2011.29,88.90],[2011.33,88.82],[2011.37,88.84],[2011.41,88.76],[2011.45,88.78],[2011.50,88.70],[2011.74,88.64],[2011.78,88.70],[2011.82,88.76],[2011.86,88.82],[2011.90,88.86],[2011.95,88.90],[2012.00,88.88],[2012.06,88.93],[2012.12,88.97],[2012.16,88.90],[2012.20,88.94],[2012.25,88.86],[2012.30,88.90],[2012.37,88.90],[2012.42,88.83],[2012.47,88.86],[2012.52,88.79],[2012.57,88.82],[2012.62,88.74],[2012.67,88.76],[2012.72,88.72],[2012.77,88.80],[2012.82,88.86],[2012.87,88.90],[2012.92,88.84],[2012.97,88.86],[2013.02,88.78],[2013.07,88.74],[2013.12,88.68],[2013.18,88.64],[2013.24,88.60],[2013.30,88.66],[2013.36,88.70],[2013.42,88.74],[2013.49,88.76],[2013.55,88.80],[2013.60,88.78],[2013.65,88.84],[2013.70,88.80],[2013.74,88.83],[2013.79,88.77],[2013.84,88.81],[2013.89,88.76],[2013.94,88.79],[2014.00,88.74],[2014.05,88.76],[2014.10,88.72],[2014.16,88.75],[2014.24,88.75],[2014.73,88.75],[2014.78,88.82],[2014.83,88.86],[2014.88,88.84],[2014.92,88.90],[2014.96,88.85],[2015.00,88.88],[2015.05,88.80],[2015.09,88.84],[2015.13,88.76],[2015.17,88.78],[2015.20,88.72],[2015.23,88.70],[2015.54,88.70],[2015.58,88.74],[2015.62,88.78],[2015.67,88.79],[2015.71,88.74],[2015.75,88.77],[2015.80,88.72],[2015.85,88.68],[2015.90,88.70],[2015.95,88.64],[2016.00,88.62],[2016.05,88.60],[2016.10,88.55],[2016.14,88.52],[2016.17,88.50],[2016.22,88.48],[2016.27,88.52],[2016.32,88.47],[2016.37,88.51],[2016.42,88.46],[2016.48,88.49],[2016.53,88.45],[2016.58,88.50],[2016.61,88.58],[2016.66,88.52],[2016.71,88.56],[2016.76,88.49],[2016.81,88.54],[2016.86,88.50],[2016.91,88.55],[2016.96,88.51],[2017.02,88.55],[2017.08,88.52],[2017.17,88.58],[2017.25,88.62],[2017.32,88.66],[2017.38,88.70],[2017.42,88.70],[2017.47,88.74],[2017.52,88.71],[2017.57,88.75],[2017.61,88.77],[2017.65,88.71],[2017.70,88.73],[2017.75,88.65],[2017.80,88.67],[2017.85,88.58],[2017.90,88.60],[2017.95,88.52],[2018.00,88.50],[2018.05,88.46],[2018.10,88.45],[2018.47,88.58],[2018.52,88.62],[2018.57,88.60],[2018.62,88.66],[2018.66,88.68],[2018.70,88.62],[2018.75,88.65],[2018.80,88.58],[2018.85,88.60],[2018.90,88.53],[2018.97,88.51],[2019.02,88.56],[2019.06,88.50],[2019.10,88.55],[2019.43,88.90],[2019.47,88.82],[2019.51,88.86],[2019.55,88.79],[2019.60,88.82],[2019.64,88.74],[2019.69,88.77],[2019.74,88.70],[2019.79,88.72],[2019.84,88.66],[2019.90,88.68],[2019.97,88.63],[2020.41,88.60],[2020.45,88.66],[2020.50,88.70],[2020.54,88.74],[2020.58,88.68],[2020.62,88.71],[2020.66,88.64],[2020.70,88.67],[2020.74,88.60],[2020.78,88.63],[2020.83,88.58],[2020.88,88.62],[2020.93,88.56],[2020.98,88.60],[2021.03,88.58]];

// ---------- layout ----------
var width = 856, height = 1054;
var left = 93, right = 855;
var tickLen = 7.6, cap = 3, dotR = 2.6;

var svg = d3.select("#chart").append("svg")
  .attr("width", width).attr("height", height);

var x = d3.scaleLinear().domain([1993.4, 2021.9]).range([left, right]);

// split the gauge record into stretches of (near) daily readings
function gaugeRuns(rec) {
  var runs = [], cur = [];
  rec.forEach(function (d, k) {
    var prev = rec[k - 1];
    if (d[1] == null || (prev && d[0] - prev[0] > 0.075)) {
      if (cur.length > 1) runs.push(cur);
      cur = [];
    }
    if (d[1] != null) cur.push(d);
  });
  if (cur.length > 1) runs.push(cur);
  return runs;
}

function drawPanel(p) {
  var y = d3.scaleLinear().domain(p.yDomain).range([p.bottom, p.top]);
  var g = svg.append("g").attr("class", "panel");

  svg.append("clipPath").attr("id", "clip-" + p.id)
    .append("rect").attr("x", left).attr("y", p.top)
    .attr("width", right - left).attr("height", p.bottom - p.top);

  var plot = g.append("g").attr("clip-path", "url(#clip-" + p.id + ")");

  p.series.forEach(function (pts, i) {
    var s = plot.append("g").attr("class", "sat");
    s.selectAll("path").data(pts).enter().append("path")
      .attr("d", function (d) {
        var cx = x(d[0]), y0 = y(d[1] - d[2]), y1 = y(d[1] + d[2]);
        return "M" + cx + "," + y0 + "V" + y1 +
          "M" + (cx - cap) + "," + y0 + "H" + (cx + cap) +
          "M" + (cx - cap) + "," + y1 + "H" + (cx + cap);
      })
      .attr("fill", "none").attr("stroke", satColors[i])
      .attr("stroke-opacity", 0.6).attr("stroke-width", 1);
    s.selectAll("circle").data(pts).enter().append("circle")
      .attr("cx", function (d) { return x(d[0]); })
      .attr("cy", function (d) { return y(d[1]); })
      .attr("r", dotR).attr("fill", satColors[i]);
  });

  var line = d3.line()
    .defined(function (d) { return d[1] != null; })
    .x(function (d) { return x(d[0]); })
    .y(function (d) { return y(d[1]); });
  plot.append("path").datum(p.insitu).attr("d", line)
    .attr("fill", "none").attr("stroke", "#000").attr("stroke-width", 1);
  plot.selectAll("path.run").data(gaugeRuns(p.insitu)).enter().append("path")
    .attr("class", "run").attr("d", line)
    .attr("fill", "none").attr("stroke", "#000").attr("stroke-width", 2)
    .attr("stroke-linejoin", "round");

  // axes (ticks inside, mirrored on top/right like a boxed MATLAB axis)
  var fmtY = function (d) { return String(+d.toFixed(1)); };
  var axB = g.append("g").attr("transform", "translate(0," + p.bottom + ")")
    .call(d3.axisBottom(x).tickValues(xTickVals)
      .tickFormat(function (d, i) { return xTickLabels[i]; })
      .tickSizeInner(-tickLen).tickSizeOuter(0).tickPadding(7));
  var axT = g.append("g").attr("transform", "translate(0," + p.top + ")")
    .call(d3.axisTop(x).tickValues(xTickVals).tickFormat("")
      .tickSizeInner(-tickLen).tickSizeOuter(0));
  var axL = g.append("g").attr("transform", "translate(" + left + ",0)")
    .call(d3.axisLeft(y).tickValues(p.yTicks).tickFormat(fmtY)
      .tickSizeInner(-tickLen).tickSizeOuter(0).tickPadding(7));
  var axR = g.append("g").attr("transform", "translate(" + right + ",0)")
    .call(d3.axisRight(y).tickValues(p.yTicks).tickFormat("")
      .tickSizeInner(-tickLen).tickSizeOuter(0));
  [axB, axT, axL, axR].forEach(function (a) {
    a.select(".domain").remove();
    a.selectAll("line").attr("stroke", "#262626").attr("stroke-width", 1);
    a.selectAll("text").attr("fill", "#262626").style("font-size", "22px");
  });

  g.append("rect").attr("x", left).attr("y", p.top)
    .attr("width", right - left).attr("height", p.bottom - p.top)
    .attr("fill", "none").attr("stroke", "#262626").attr("stroke-width", 1.2);

  g.append("text").attr("x", p.titleX).attr("y", p.titleY)
    .style("font-size", "24.5px").text(p.title);

  g.append("text")
    .attr("transform", "translate(34," + (p.top + p.bottom) / 2 + ") rotate(-90)")
    .attr("text-anchor", "middle").style("font-size", "23px").text("WL (m)");

  // legend
  var lg = g.append("g").attr("transform", "translate(" + p.legend[0] + "," + p.legend[1] + ")");
  var rowH = 21.4, lw = 135, lh = 193;
  lg.append("rect").attr("width", lw).attr("height", lh)
    .attr("fill", "#fff").attr("stroke", "#262626").attr("stroke-width", 1);
  satellites.forEach(function (name, i) {
    var cy = 10 + i * rowH, cx = 14;
    lg.append("path")
      .attr("d", "M" + cx + "," + (cy - 7) + "V" + (cy + 7) +
        "M" + (cx - cap) + "," + (cy - 7) + "H" + (cx + cap) +
        "M" + (cx - cap) + "," + (cy + 7) + "H" + (cx + cap))
      .attr("stroke", satColors[i]).attr("stroke-opacity", 0.6).attr("fill", "none");
    lg.append("circle").attr("cx", cx).attr("cy", cy).attr("r", dotR).attr("fill", satColors[i]);
    lg.append("text").attr("x", 28).attr("y", cy).attr("dy", "0.36em")
      .style("font-size", "20px").text(name);
  });
  var cyIn = 10 + 8 * rowH;
  lg.append("line").attr("x1", 2).attr("x2", 25).attr("y1", cyIn).attr("y2", cyIn)
    .attr("stroke", "#000").attr("stroke-width", 1);
  lg.append("text").attr("x", 28).attr("y", cyIn).attr("dy", "0.36em")
    .style("font-size", "20px").text("In-situ");
}

drawPanel({
  id: "a", title: "a) Lake Hjälmaren", titleX: 113, titleY: 58, top: 18, bottom: 498,
  yDomain: [20.5, 23.5], yTicks: hjYTicks, legend: [553, 297],
  series: [hjErs2, hjEnvisat, hjJason1, hjJason2, hjJason3, hjSaral, hjS3a, hjS3b],
  insitu: hjInsitu
});

drawPanel({
  id: "b", title: "b) Lake Vättern", titleX: 111, titleY: 575, top: 545, bottom: 1014,
  yDomain: [87.6, 89.4], yTicks: vtYTicks, legend: [525, 821],
  series: [vtErs2, vtEnvisat, vtJason1, vtJason2, vtJason3, vtSaral, vtS3a, vtS3b],
  insitu: vtInsitu
});
</script>
</body>
</html>
